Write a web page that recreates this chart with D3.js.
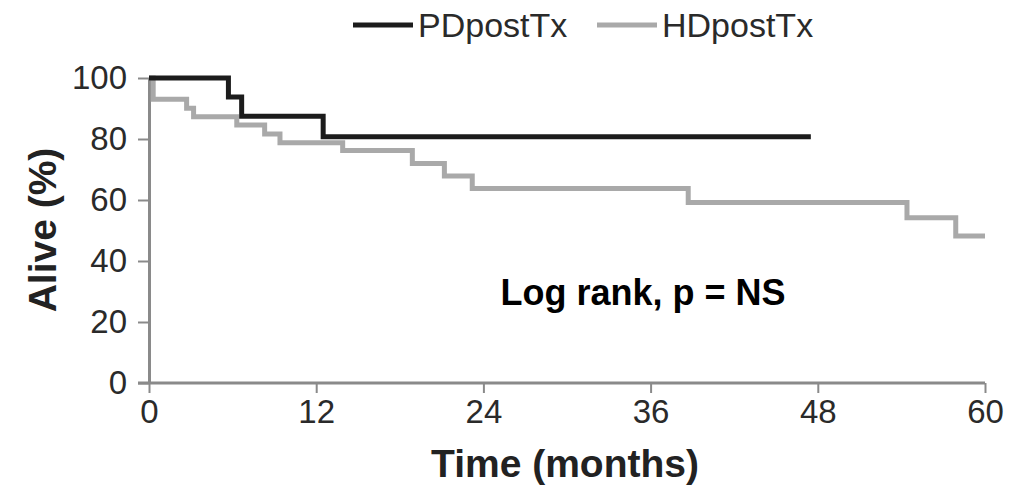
<!DOCTYPE html>
<html>
<head>
<meta charset="utf-8">
<script src="https://cdn.jsdelivr.net/npm/d3@7"></script>
<style>
  body { margin: 0; background: #fff; }
  text { font-family: "Liberation Sans", Arial, sans-serif; }
</style>
</head>
<body>
<div id="vis"></div>
<script>
var width = 1028,
    height = 488;

// survival data (months, % alive)
var pdTime = [0, 5.7, 6.65, 12.5, 47.5];
var pdSurv = [100, 93.8, 87.5, 80.7, 80.7];
var hdTime = [0, 0.3, 2.7, 3.2, 6.3, 8.3, 9.4, 13.9, 18.9, 21.2, 23.2, 38.7, 54.4, 57.9, 60];
var hdSurv = [100, 93.0, 90.1, 87.3, 84.6, 81.6, 78.8, 76.2, 72.0, 67.9, 63.8, 59.2, 54.2, 48.2, 48.2];

var xTicks = [0, 12, 24, 36, 48, 60];
var yTicks = [0, 20, 40, 60, 80, 100];
var seriesNames = ["PDpostTx", "HDpostTx"];
var seriesColors = ["#1c1c1c", "#a9a9a9"];

var margin = {top: 78, right: 43, bottom: 105, left: 149};

var svg = d3.select("#vis").append("svg")
    .attr("width", width)
    .attr("height", height);

var g = svg.append("g")
    .attr("transform", "translate(" + margin.left + "," + margin.top + ")");

var w = width - margin.left - margin.right,
    h = height - margin.top - margin.bottom;

var x = d3.scaleLinear().domain([0, 60]).range([0, w]);
var y = d3.scaleLinear().domain([0, 100]).range([h, 0]);

//--------AXES--------//
var xAxis = g.append("g")
    .attr("transform", "translate(0," + h + ")")
    .call(d3.axisBottom(x).tickValues(xTicks).tickSize(10).tickPadding(7).tickSizeOuter(0));

var yAxis = g.append("g")
    .call(d3.axisLeft(y).tickValues(yTicks).tickSize(11).tickPadding(11).tickSizeOuter(0));

[xAxis, yAxis].forEach(function(a) {
    a.select(".domain").attr("stroke", "#8a8a8a").attr("stroke-width", 3);
    a.selectAll(".tick line").attr("stroke", "#8a8a8a").attr("stroke-width", 2);
    a.selectAll(".tick text")
        .style("font-size", "33px")
        .attr("fill", "#2a2a2a");
});
// x axis line runs a bit to the left, past the y axis
xAxis.select(".domain").attr("d", "M-11,0H" + w);

//--------CURVES--------//
var line = d3.line()
    .x(function(d) { return x(d[0]); })
    .y(function(d) { return y(d[1]); })
    .curve(d3.curveStepAfter);

var hdData = d3.zip(hdTime, hdSurv);
var pdData = d3.zip(pdTime, pdSurv);

g.append("path")
    .datum(hdData)
    .attr("fill", "none")
    .attr("stroke", seriesColors[1])
    .attr("stroke-width", 5)
    .attr("d", line);

g.append("path")
    .datum(pdData)
    .attr("fill", "none")
    .attr("stroke", seriesColors[0])
    .attr("stroke-width", 5)
    .attr("d", line);

//--------LABELS--------//
svg.append("text")
    .attr("x", 565)
    .attr("y", 477)
    .attr("text-anchor", "middle")
    .style("font-size", "39px")
    .style("font-weight", "bold")
    .attr("fill", "#222")
    .text("Time (months)");

svg.append("text")
    .attr("transform", "translate(56,230) rotate(-90)")
    .attr("text-anchor", "middle")
    .style("font-size", "39px")
    .style("font-weight", "bold")
    .attr("fill", "#222")
    .text("Alive (%)");

svg.append("text")
    .attr("x", 643)
    .attr("y", 305)
    .attr("text-anchor", "middle")
    .style("font-size", "36px")
    .style("font-weight", "bold")
    .attr("fill", "#000")
    .text("Log rank, p = NS");

//--------LEGEND--------//
var legendX = [353, 597];
var legend = svg.selectAll(".legenditem")
    .data(seriesNames)
    .enter()
    .append("g")
    .attr("class", "legenditem")
    .attr("transform", function(d, i) { return "translate(" + legendX[i] + ",25)"; });

legend.append("line")
    .attr("x1", 0)
    .attr("x2", 60)
    .attr("stroke", function(d, i) { return seriesColors[i]; })
    .attr("stroke-width", 5);

legend.append("text")
    .attr("x", 65)
    .attr("y", 12)
    .style("font-size", "34px")
    .attr("fill", "#2a2a2a")
    .text(function(d) { return d; });
</script>
</body>
</html>
